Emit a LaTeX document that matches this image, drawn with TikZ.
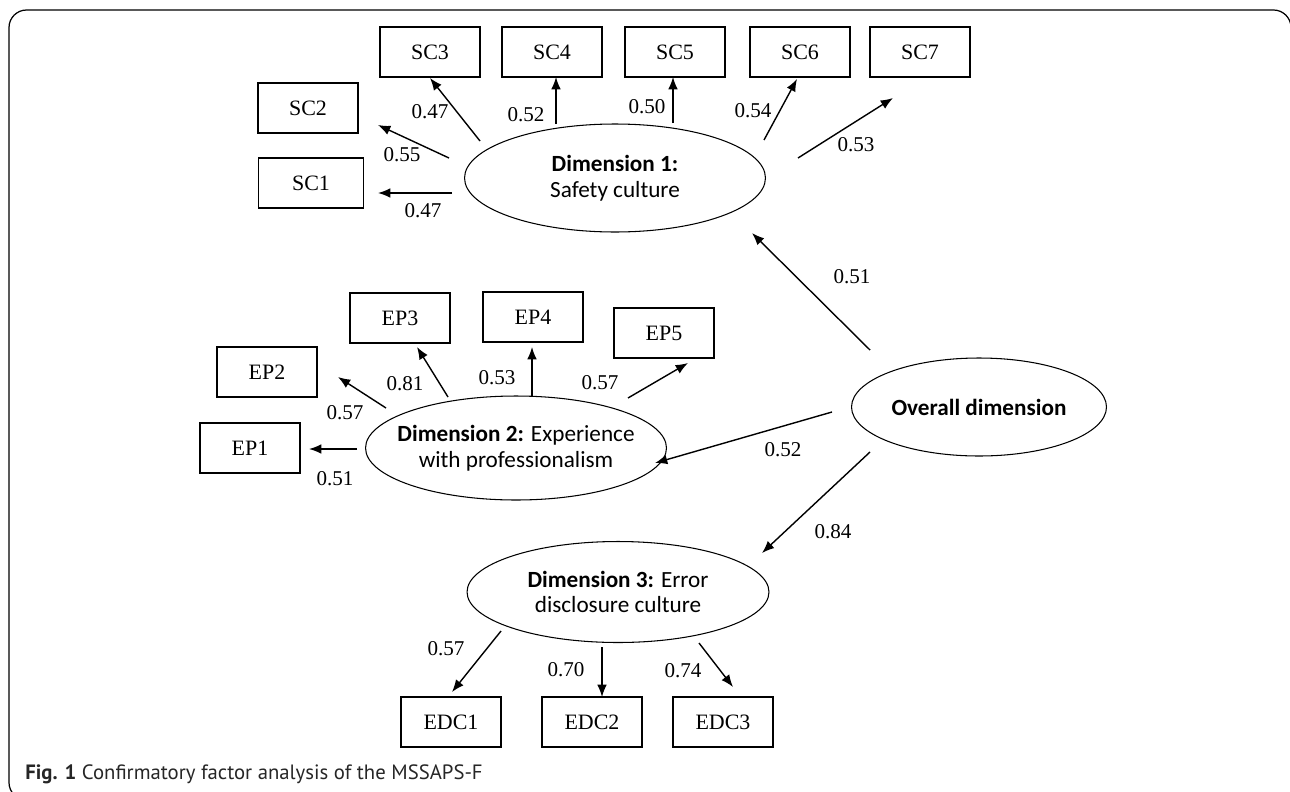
\documentclass[tikz,border=0pt]{standalone}
\usepackage{fontspec}
\setmainfont{Liberation Serif}
\newfontfamily\dimfont{Carlito}
\newfontfamily\capfont{PT Sans}
\usetikzlibrary{shapes.geometric,arrows.meta}

\tikzset{
  itembox/.style={draw, line width=0.75pt, minimum width=2cm, minimum height=1cm,
    inner sep=0pt, font=\fontsize{12.5}{14}\selectfont},
  factor/.style={draw, ellipse, line width=0.6pt, inner sep=0pt, inner xsep=-0.6cm,
    align=center, font=\dimfont\fontsize{13.2}{14.6}\selectfont},
  load/.style={-{Latex[length=7pt,width=5.5pt]}, line width=0.8pt},
  coef/.style={inner sep=0pt, font=\fontsize{12}{13}\selectfont}
}

\begin{document}
\begin{tikzpicture}[x=0.02cm, y=-0.02cm]

      \useasboundingbox (0,0) rectangle (1290,791);
      \begin{scope}
        \clip (0,0) rectangle (1290,791);
        \draw[line width=0.7pt, rounded corners=10] (1291,40) |- (9,10) -- (9,800) -- (60,800);
      \end{scope}

      % observed items
      \begin{scope}[every node/.style={itembox}]
        \node (sc1) [minimum width=2.1cm] at (311,183) {SC1};
        \node (sc2)  at (308,108) {SC2};
        \node (sc3)  at (430,52)  {SC3};
        \node (sc4)  at (552,52)  {SC4};
        \node (sc5)  at (675,52)  {SC5};
        \node (sc6)  at (800,52)  {SC6};
        \node (sc7)  at (920,52)  {SC7};
        \node (ep1)  at (250,448) {EP1};
        \node (ep2)  at (267,372) {EP2};
        \node (ep3)  at (400,318) {EP3};
        \node (ep4)  at (533,317) {EP4};
        \node (ep5)  at (664,333) {EP5};
        \node (edc1) at (451,722) {EDC1};
        \node (edc2) at (592,722) {EDC2};
        \node (edc3) at (723,722) {EDC3};
      \end{scope}

      % latent factors
      \begin{scope}[every node/.style={factor}]
        \node (d1) [minimum width=6.02cm, minimum height=2.16cm] at (615,178)
          {\textbf{Dimension 1:}\\Safety culture};
        \node (d2) [minimum width=6.02cm, minimum height=2.08cm] at (516,448)
          {\textbf{Dimension 2:} Experience\\with professionalism};
        \node (d3) [minimum width=6.04cm, minimum height=2.02cm] at (618,592)
          {\textbf{Dimension 3:} Error\\disclosure culture};
        \node (ov) [minimum width=5.1cm, minimum height=1.96cm] at (979,407)
          {\textbf{Overall dimension}};
      \end{scope}

      % loadings
      \begin{scope}[every path/.style={load}]
        \draw ([shift={(-163,15)}]d1.center)  -- ([shift={(67,10)}]sc1.center);
        \draw ([shift={(-166,-20)}]d1.center) -- ([shift={(70,17)}]sc2.center);
        \draw ([shift={(-135,-37)}]d1.center) -- ([shift={(0,26)}]sc3.center);
        \draw ([shift={(-59,-54)}]d1.center)  -- ([shift={(4,25)}]sc4.center);
        \draw ([shift={(58,-55)}]d1.center)   -- ([shift={(-2,25)}]sc5.center);
        \draw ([shift={(149,-38)}]d1.center)  -- ([shift={(-3,27)}]sc6.center);
        \draw ([shift={(183,-20)}]d1.center)  -- ([shift={(-27,46)}]sc7.center);
        \draw ([shift={(-109,-57)}]ov.center) -- ([shift={(137,55)}]d1.center);
        \draw ([shift={(-147,5)}]ov.center)   -- ([shift={(139,15)}]d2.center);
        \draw ([shift={(-109,45)}]ov.center)  -- ([shift={(144,-39)}]d3.center);
        \draw ([shift={(-159,1)}]d2.center)   -- ([shift={(59,1)}]ep1.center);
        \draw ([shift={(-130,-40)}]d2.center) -- ([shift={(71,5)}]ep2.center);
        \draw ([shift={(-68,-51)}]d2.center)  -- ([shift={(17,29)}]ep3.center);
        \draw ([shift={(16,-52)}]d2.center)   -- ([shift={(-1,30)}]ep4.center);
        \draw ([shift={(112,-50)}]d2.center)  -- ([shift={(24,30)}]ep5.center);
        \draw ([shift={(-117,39)}]d3.center)  -- ([shift={(1,-30)}]edc1.center);
        \draw ([shift={(-16,55)}]d3.center)   -- ([shift={(10,-25)}]edc2.center);
        \draw ([shift={(81,51)}]d3.center)    -- ([shift={(10,-35)}]edc3.center);
      \end{scope}

      \begin{scope}[every node/.style={coef}]
        \node (l1)  at (423,211) {0.47};
        \node (l2)  at (402,155) {0.55};
        \node (l3)  at (430,112) {0.47};
        \node (l4)  at (526,115) {0.52};
        \node (l5)  at (647,107) {0.50};
        \node (l6)  at (753,111) {0.54};
        \node (l7)  at (856,145) {0.53};
        \node (l8)  at (852,277) {0.51};
        \node (l9)  at (783,450) {0.52};
        \node (l10) at (833,532) {0.84};
        \node (l11) at (335,479) {0.51};
        \node (l12) at (345,413) {0.57};
        \node (l13) at (405,384) {0.81};
        \node (l14) at (497,378) {0.53};
        \node (l15) at (600,383) {0.57};
        \node (l16) at (446,649) {0.57};
        \node (l17) at (566,670) {0.70};
        \node (l18) at (683,671) {0.74};
      \end{scope}

      \node (cap) [anchor=base west, inner sep=0pt, text=black!85,
        font=\capfont\fontsize{11.8}{13}\selectfont] at (25,779)
        {\textbf{Fig. 1} Confirmatory factor analysis of the MSSAPS-F};

    \end{tikzpicture}
\end{document}
